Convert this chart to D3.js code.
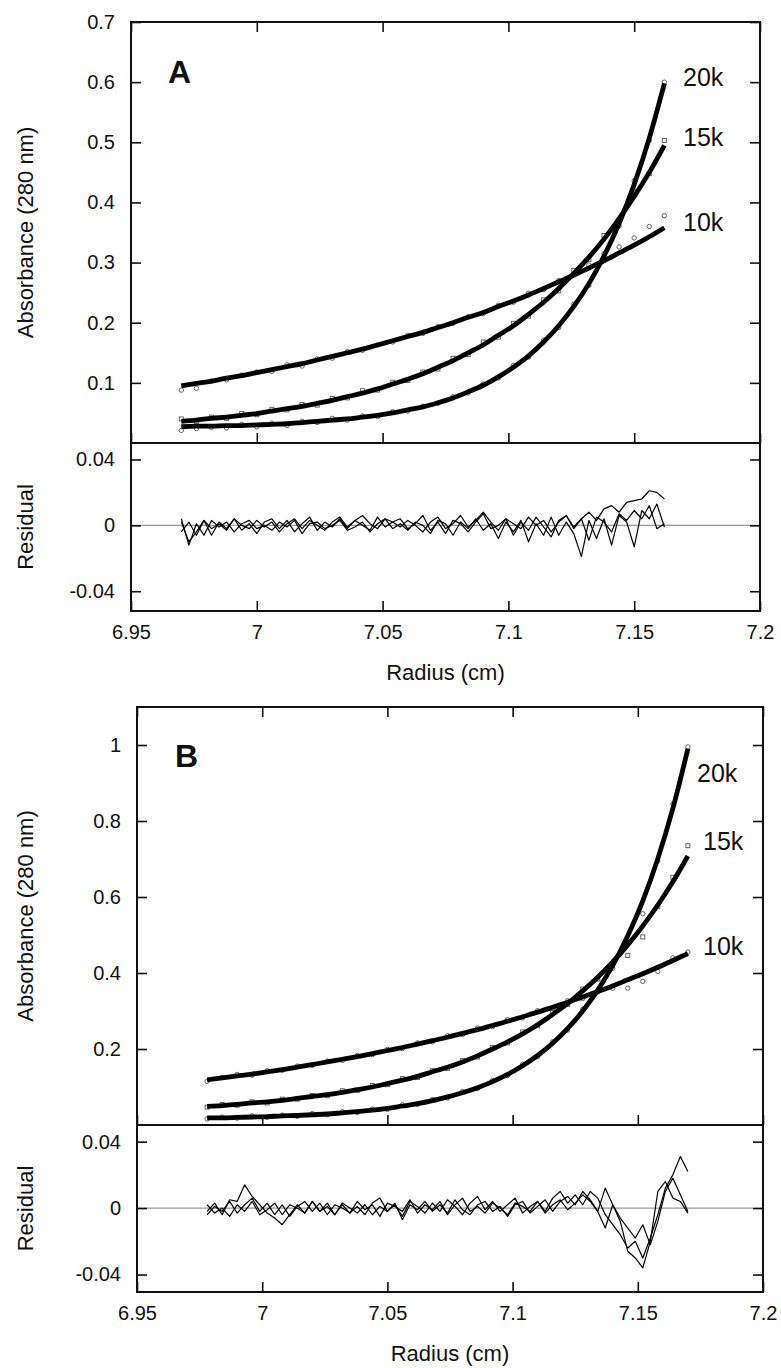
<!DOCTYPE html>
<html>
<head>
<meta charset="utf-8">
<script src="https://cdnjs.cloudflare.com/ajax/libs/d3/7.8.5/d3.min.js"></script>
<style>
  body { margin: 0; background: white; }
  svg { font-family: "Liberation Sans", Arial, Helvetica, sans-serif; }
</style>
</head>
<body>
<div id="chart"></div>
<script>

// Tick values shared by both panels
var xTicks = [6.95, 7, 7.05, 7.1, 7.15, 7.2];
var yTicksA = [0.1, 0.2, 0.3, 0.4, 0.5, 0.6, 0.7];
var yTicksB = [0.2, 0.4, 0.6, 0.8, 1];
var resTicks = [-0.04, 0, 0.04];
var speeds = ["10k", "15k", "20k"];

// ---------- Panel A ----------
// radius grid of the residual scans (cm)
var radiusA = [6.970, 6.973, 6.976, 6.979, 6.982, 6.985, 6.988, 6.991, 6.994, 6.997,
               7.000, 7.003, 7.006, 7.009, 7.012, 7.015, 7.018, 7.021, 7.024, 7.027,
               7.030, 7.033, 7.036, 7.039, 7.042, 7.045, 7.048, 7.051, 7.054, 7.057,
               7.060, 7.063, 7.066, 7.069, 7.072, 7.075, 7.078, 7.081, 7.084, 7.087,
               7.090, 7.093, 7.096, 7.099, 7.102, 7.105, 7.108, 7.111, 7.114, 7.117,
               7.120, 7.123, 7.126, 7.129, 7.132, 7.135, 7.138, 7.141, 7.144, 7.147,
               7.150, 7.153, 7.156, 7.159, 7.162];

// radius of the plotted absorbance points and fit
var obsRadiusA = [6.970, 6.976, 6.982, 6.988, 6.994, 7.000, 7.006, 7.012, 7.018, 7.024,
                  7.030, 7.036, 7.042, 7.048, 7.054, 7.060, 7.066, 7.072, 7.078, 7.084,
                  7.090, 7.096, 7.102, 7.108, 7.114, 7.120, 7.126, 7.132, 7.138, 7.144,
                  7.150, 7.156, 7.162];

var fitA10k = [0.095, 0.099, 0.103, 0.108, 0.112, 0.117, 0.122, 0.127, 0.132, 0.138,
               0.144, 0.150, 0.156, 0.163, 0.170, 0.177, 0.184, 0.192, 0.200, 0.209,
               0.217, 0.227, 0.236, 0.246, 0.257, 0.268, 0.279, 0.291, 0.303, 0.316,
               0.329, 0.343, 0.358];
var fitA15k = [0.036, 0.038, 0.041, 0.043, 0.046, 0.049, 0.053, 0.057, 0.061, 0.066,
               0.071, 0.077, 0.083, 0.090, 0.098, 0.106, 0.115, 0.126, 0.137, 0.150,
               0.163, 0.179, 0.195, 0.214, 0.234, 0.257, 0.282, 0.309, 0.339, 0.373,
               0.410, 0.450, 0.495];
var fitA20k = [0.027, 0.028, 0.028, 0.029, 0.029, 0.030, 0.031, 0.032, 0.034, 0.036,
               0.038, 0.040, 0.043, 0.046, 0.050, 0.055, 0.060, 0.067, 0.075, 0.085,
               0.096, 0.110, 0.126, 0.145, 0.168, 0.195, 0.227, 0.265, 0.311, 0.365,
               0.430, 0.507, 0.598];

var obsA10k = [0.088, 0.091, 0.103, 0.105, 0.113, 0.118, 0.119, 0.130, 0.128, 0.140,
               0.141, 0.152, 0.154, 0.163, 0.168, 0.179, 0.182, 0.194, 0.199, 0.210,
               0.215, 0.229, 0.234, 0.249, 0.255, 0.270, 0.281, 0.296, 0.310, 0.326,
               0.341, 0.360, 0.378];
var obsA15k = [0.040, 0.036, 0.043, 0.041, 0.049, 0.047, 0.056, 0.055, 0.064, 0.063,
               0.074, 0.075, 0.087, 0.088, 0.101, 0.104, 0.118, 0.123, 0.141, 0.147,
               0.168, 0.176, 0.199, 0.211, 0.238, 0.253, 0.287, 0.305, 0.345, 0.370,
               0.418, 0.448, 0.503];
var obsA20k = [0.021, 0.024, 0.026, 0.025, 0.031, 0.027, 0.033, 0.029, 0.036, 0.034,
               0.041, 0.038, 0.045, 0.044, 0.052, 0.053, 0.061, 0.066, 0.077, 0.083,
               0.098, 0.108, 0.129, 0.143, 0.171, 0.192, 0.231, 0.262, 0.315, 0.361,
               0.436, 0.503, 0.600];

var resA10k = [-0.004, 0.002, -0.006, 0.003, -0.002, 0.001, -0.003, 0.004, 0.000, -0.002,
               0.003, -0.001, 0.002, -0.004, 0.001, 0.004, -0.002, 0.003, 0.000, -0.003,
               0.002, 0.005, -0.001, 0.003, 0.006, 0.001, -0.002, 0.004, 0.002, -0.001,
               0.003, 0.000, -0.004, 0.002, 0.005, -0.002, 0.001, 0.006, -0.001, 0.003,
               0.008, 0.002, -0.003, 0.004, 0.001, -0.002, 0.005, 0.000, 0.003, -0.004,
               0.002, 0.006, -0.001, 0.004, 0.008, 0.003, 0.010, 0.012, 0.008, 0.014,
               0.015, 0.016, 0.021, 0.020, 0.016];
var resA15k = [0.002, -0.010, -0.004, 0.003, -0.006, 0.002, -0.002, 0.004, -0.003, 0.001,
               -0.005, 0.002, 0.004, -0.002, 0.003, -0.004, 0.001, 0.005, -0.003, 0.002,
               -0.001, 0.004, -0.002, 0.003, 0.000, -0.003, 0.005, -0.001, 0.002, 0.004,
               -0.002, 0.001, 0.006, -0.003, 0.002, -0.005, 0.003, 0.001, -0.004, 0.002,
               0.007, -0.002, 0.000, 0.004, -0.006, 0.002, -0.003, 0.005, -0.001, -0.007,
               0.003, 0.006, -0.002, 0.004, -0.009, 0.005, 0.002, -0.004, 0.007, 0.003,
               0.009, 0.004, 0.012, -0.002, 0.001];
var resA20k = [0.004, -0.012, 0.001, -0.006, 0.003, -0.001, 0.002, -0.004, 0.001, 0.003,
               -0.002, 0.000, -0.003, 0.002, -0.001, 0.003, -0.005, 0.001, 0.002, -0.002,
               0.000, 0.003, -0.003, -0.001, 0.002, -0.004, 0.001, 0.004, -0.002, 0.001,
               -0.003, 0.002, 0.000, -0.005, 0.003, 0.001, -0.006, 0.002, -0.002, 0.004,
               -0.003, 0.001, -0.008, 0.002, -0.004, 0.003, -0.010, 0.001, -0.006, 0.005,
               -0.006, 0.002, -0.005, -0.019, 0.003, -0.008, 0.004, -0.012, 0.006, 0.002,
               -0.013, 0.009, 0.004, 0.013, -0.001];

// ---------- Panel B ----------
var radiusB = [6.978, 6.981, 6.984, 6.987, 6.990, 6.993, 6.996, 6.999, 7.002, 7.005,
               7.008, 7.011, 7.014, 7.017, 7.020, 7.023, 7.026, 7.029, 7.032, 7.035,
               7.038, 7.041, 7.044, 7.047, 7.050, 7.053, 7.056, 7.059, 7.062, 7.065,
               7.068, 7.071, 7.074, 7.077, 7.080, 7.083, 7.086, 7.089, 7.092, 7.095,
               7.098, 7.101, 7.104, 7.107, 7.110, 7.113, 7.116, 7.119, 7.122, 7.125,
               7.128, 7.131, 7.134, 7.137, 7.140, 7.143, 7.146, 7.149, 7.152, 7.155,
               7.158, 7.161, 7.164, 7.167, 7.170];

var obsRadiusB = [6.978, 6.984, 6.990, 6.996, 7.002, 7.008, 7.014, 7.020, 7.026, 7.032,
                  7.038, 7.044, 7.050, 7.056, 7.062, 7.068, 7.074, 7.080, 7.086, 7.092,
                  7.098, 7.104, 7.110, 7.116, 7.122, 7.128, 7.134, 7.140, 7.146, 7.152,
                  7.158, 7.164, 7.170];

var fitB10k = [0.119, 0.124, 0.129, 0.134, 0.140, 0.146, 0.152, 0.159, 0.166, 0.173,
               0.180, 0.188, 0.196, 0.204, 0.213, 0.222, 0.231, 0.241, 0.251, 0.262,
               0.273, 0.285, 0.297, 0.310, 0.323, 0.337, 0.351, 0.366, 0.382, 0.398,
               0.415, 0.433, 0.451];
var fitB15k = [0.049, 0.051, 0.054, 0.058, 0.061, 0.065, 0.070, 0.075, 0.080, 0.086,
               0.093, 0.100, 0.109, 0.118, 0.128, 0.140, 0.152, 0.166, 0.182, 0.200,
               0.219, 0.240, 0.264, 0.291, 0.320, 0.353, 0.389, 0.429, 0.474, 0.524,
               0.579, 0.640, 0.708];
var fitB20k = [0.019, 0.019, 0.020, 0.021, 0.022, 0.024, 0.025, 0.027, 0.029, 0.032,
               0.035, 0.039, 0.044, 0.050, 0.056, 0.064, 0.074, 0.085, 0.098, 0.114,
               0.133, 0.156, 0.183, 0.215, 0.254, 0.300, 0.355, 0.420, 0.498, 0.590,
               0.701, 0.833, 0.990];

var obsB10k = [0.115, 0.125, 0.133, 0.131, 0.143, 0.144, 0.155, 0.157, 0.168, 0.170,
               0.183, 0.185, 0.199, 0.201, 0.216, 0.219, 0.235, 0.238, 0.255, 0.259,
               0.277, 0.282, 0.301, 0.306, 0.327, 0.333, 0.352, 0.360, 0.360, 0.378,
               0.404, 0.440, 0.455];
var obsB15k = [0.047, 0.054, 0.052, 0.061, 0.058, 0.068, 0.068, 0.078, 0.077, 0.090,
               0.091, 0.104, 0.106, 0.122, 0.125, 0.143, 0.149, 0.170, 0.179, 0.204,
               0.216, 0.245, 0.261, 0.296, 0.317, 0.358, 0.384, 0.425, 0.446, 0.495,
               0.575, 0.652, 0.735];
var obsB20k = [0.016, 0.021, 0.018, 0.024, 0.020, 0.026, 0.023, 0.030, 0.027, 0.035,
               0.033, 0.042, 0.041, 0.053, 0.054, 0.067, 0.071, 0.088, 0.096, 0.117,
               0.130, 0.160, 0.180, 0.219, 0.250, 0.304, 0.350, 0.412, 0.480, 0.556,
               0.695, 0.845, 0.995];

var resB10k = [-0.004, 0.001, -0.002, 0.004, -0.003, 0.002, 0.006, -0.002, 0.003, -0.004,
               0.002, -0.005, 0.001, 0.004, -0.002, 0.003, -0.004, 0.002, 0.000, -0.003,
               0.004, -0.001, 0.002, -0.005, 0.003, 0.001, -0.002, 0.005, -0.003, 0.002,
               -0.001, 0.004, -0.004, 0.002, 0.006, -0.002, 0.001, -0.003, 0.003, 0.000,
               -0.004, 0.003, 0.001, -0.002, 0.004, -0.003, 0.002, 0.005, -0.001, 0.003,
               0.008, 0.004, -0.002, 0.012, 0.002, -0.006, -0.012, -0.018, -0.010, -0.022,
               -0.008, 0.010, 0.018, 0.008, -0.002];
var resB15k = [-0.002, 0.003, -0.004, 0.005, 0.004, 0.014, 0.007, 0.002, -0.003, -0.006,
               -0.010, -0.004, 0.002, -0.003, 0.004, -0.002, 0.003, -0.004, 0.002, -0.003,
               0.001, -0.004, 0.003, 0.006, -0.002, 0.002, -0.005, 0.004, 0.001, -0.003,
               0.003, -0.002, 0.005, 0.001, -0.004, 0.003, 0.007, -0.001, 0.004, -0.002,
               0.002, 0.006, -0.003, 0.001, 0.004, -0.002, 0.006, 0.010, 0.003, 0.008,
               0.002, 0.010, 0.006, -0.004, -0.010, -0.016, -0.024, -0.020, -0.030, -0.018,
               -0.004, 0.012, 0.020, 0.031, 0.022];
var resB20k = [0.002, -0.003, 0.000, -0.005, 0.002, -0.002, 0.004, -0.004, -0.001, 0.003,
               -0.004, 0.002, 0.000, -0.003, 0.004, -0.002, 0.001, -0.004, 0.003, 0.000,
               -0.003, 0.002, -0.004, 0.001, -0.002, 0.003, -0.007, 0.002, -0.001, 0.004,
               -0.002, 0.002, -0.003, 0.005, -0.001, -0.004, 0.002, 0.004, -0.002, 0.001,
               -0.005, 0.002, 0.004, -0.003, 0.001, 0.005, -0.002, 0.004, 0.007, 0.002,
               0.010, 0.005, -0.002, -0.012, 0.002, -0.008, -0.026, -0.030, -0.036, -0.020,
               0.010, 0.016, 0.006, 0.004, -0.003];


// Layout of both panels (pixel frame + references to the data above)
var panelA = {
  left: 131, right: 760, top: 22, mid: 443, bottom: 611,
  yDomain: [0, 0.7], resDomain: [-0.052, 0.05], yTicks: yTicksA,
  radius: radiusA, obsRadius: obsRadiusA,
  fits: [fitA10k, fitA15k, fitA20k],
  obs: [obsA10k, obsA15k, obsA20k],
  res: [resA10k, resA15k, resA20k],
  letter: {text: "A", x: 168, y: 83},
  labels: [{x: 683, y: 231}, {x: 683, y: 146}, {x: 683, y: 86}]
};

var panelB = {
  left: 137, right: 763, top: 707, mid: 1125, bottom: 1292,
  yDomain: [0, 1.1], resDomain: [-0.0505, 0.05], yTicks: yTicksB,
  radius: radiusB, obsRadius: obsRadiusB,
  fits: [fitB10k, fitB15k, fitB20k],
  obs: [obsB10k, obsB15k, obsB20k],
  res: [resB10k, resB15k, resB20k],
  letter: {text: "B", x: 175, y: 767},
  labels: [{x: 703, y: 955}, {x: 703, y: 850}, {x: 697, y: 782}]
};


window.onload = function(){

  var svg = d3.select("#chart")
              .append("svg")
                .attr("width", 781)
                .attr("height", 1368);

  draw_panel(svg, panelA);
  draw_panel(svg, panelB);
};


// Style the tick marks and labels of an axis group, drop the domain path
function style_axis(g) {
  g.select(".domain").remove();
  g.selectAll(".tick line")
    .attr("stroke", "#111")
    .attr("stroke-width", 1.6);
  g.selectAll(".tick text")
    .attr("fill", "#111")
    .style("font-size", "20px");
}


function draw_panel(svg, p) {

  // Scales
  var xScale = d3.scaleLinear()
                  .domain([6.95, 7.2])
                  .range([p.left, p.right]);

  var yScale = d3.scaleLinear()
                  .domain(p.yDomain)
                  .range([p.mid, p.top]);

  var resScale = d3.scaleLinear()
                    .domain(p.resDomain)
                    .range([p.bottom, p.mid]);

  var g = svg.append("g");

  // Zero line of residual plot
  g.append("line")
    .attr("x1", p.left)
    .attr("x2", p.right)
    .attr("y1", resScale(0))
    .attr("y2", resScale(0))
    .attr("stroke", "#999")
    .attr("stroke-width", 1.2);

  // Absorbance axes, ticks pointing inward on all four sides
  g.append("g")
    .attr("transform", "translate(" + p.left + ",0)")
    .call(d3.axisLeft(yScale).tickValues(p.yTicks).tickSizeInner(-10).tickSizeOuter(0)
            .tickPadding(16).tickFormat(String))
    .call(style_axis);

  g.append("g")
    .attr("transform", "translate(" + p.right + ",0)")
    .call(d3.axisRight(yScale).tickValues(p.yTicks).tickSizeInner(-10).tickSizeOuter(0)
            .tickFormat(""))
    .call(style_axis);

  g.append("g")
    .attr("transform", "translate(0," + p.top + ")")
    .call(d3.axisTop(xScale).tickValues(xTicks).tickSizeInner(-10).tickSizeOuter(0)
            .tickFormat(""))
    .call(style_axis);

  g.append("g")
    .attr("transform", "translate(0," + p.mid + ")")
    .call(d3.axisBottom(xScale).tickValues(xTicks).tickSizeInner(-10).tickSizeOuter(0)
            .tickFormat(""))
    .call(style_axis);

  // Residual axes
  g.append("g")
    .attr("transform", "translate(" + p.left + ",0)")
    .call(d3.axisLeft(resScale).tickValues(resTicks).tickSizeInner(-10).tickSizeOuter(0)
            .tickPadding(16).tickFormat(String))
    .call(style_axis);

  g.append("g")
    .attr("transform", "translate(" + p.right + ",0)")
    .call(d3.axisRight(resScale).tickValues(resTicks).tickSizeInner(-10).tickSizeOuter(0)
            .tickFormat(""))
    .call(style_axis);

  g.append("g")
    .attr("transform", "translate(0," + p.bottom + ")")
    .call(d3.axisBottom(xScale).tickValues(xTicks).tickSizeInner(-10).tickSizeOuter(0)
            .tickPadding(14).tickFormat(String))
    .call(style_axis);

  // Observed absorbance points (circles for 10k and 20k, squares for 15k)
  p.obs.forEach(function(series, s) {
    var pts = d3.zip(p.obsRadius, series);
    if (s == 1) {
      g.selectAll(null)
        .data(pts)
        .enter()
        .append("rect")
          .attr("x", function(d) { return xScale(d[0]) - 2; })
          .attr("y", function(d) { return yScale(d[1]) - 2; })
          .attr("width", 4)
          .attr("height", 4)
          .attr("fill", "white")
          .attr("stroke", "#555")
          .attr("stroke-width", 0.9);
    }
    else {
      g.selectAll(null)
        .data(pts)
        .enter()
        .append("circle")
          .attr("cx", function(d) { return xScale(d[0]); })
          .attr("cy", function(d) { return yScale(d[1]); })
          .attr("r", 2.2)
          .attr("fill", "white")
          .attr("stroke", "#555")
          .attr("stroke-width", 0.9);
    }
  });

  // Fitted curves
  var fitLine = d3.line()
                  .x(function(d) { return xScale(d[0]); })
                  .y(function(d) { return yScale(d[1]); })
                  .curve(d3.curveMonotoneX);

  p.fits.forEach(function(series) {
    g.append("path")
      .datum(d3.zip(p.obsRadius, series))
      .attr("d", fitLine)
      .attr("fill", "none")
      .attr("stroke", "black")
      .attr("stroke-width", 4.8);
  });

  // Residual traces
  var resLine = d3.line()
                  .x(function(d) { return xScale(d[0]); })
                  .y(function(d) { return resScale(d[1]); });

  p.res.forEach(function(series) {
    g.append("path")
      .datum(d3.zip(p.radius, series))
      .attr("d", resLine)
      .attr("fill", "none")
      .attr("stroke", "black")
      .attr("stroke-width", 1.2)
      .attr("stroke-linejoin", "round");
  });

  // Frames
  g.append("rect")
    .attr("x", p.left)
    .attr("y", p.top)
    .attr("width", p.right - p.left)
    .attr("height", p.mid - p.top)
    .attr("fill", "none")
    .attr("stroke", "#111")
    .attr("stroke-width", 2);

  g.append("rect")
    .attr("x", p.left)
    .attr("y", p.mid)
    .attr("width", p.right - p.left)
    .attr("height", p.bottom - p.mid)
    .attr("fill", "none")
    .attr("stroke", "#111")
    .attr("stroke-width", 2);

  // Speed labels next to the curve ends
  speeds.forEach(function(name, s) {
    g.append("text")
      .attr("x", p.labels[s].x)
      .attr("y", p.labels[s].y)
      .style("font-size", "25px")
      .attr("fill", "#111")
      .text(name);
  });

  // Panel letter
  g.append("text")
    .attr("x", p.letter.x)
    .attr("y", p.letter.y)
    .style("font-size", "32px")
    .style("font-weight", "bold")
    .attr("fill", "#111")
    .text(p.letter.text);

  // Axis titles
  g.append("text")
    .attr("transform", "translate(33," + ((p.top + p.mid) / 2) + ") rotate(-90)")
    .style("text-anchor", "middle")
    .style("font-size", "22px")
    .attr("fill", "#111")
    .text("Absorbance (280 nm)");

  g.append("text")
    .attr("transform", "translate(33," + ((p.mid + p.bottom) / 2) + ") rotate(-90)")
    .style("text-anchor", "middle")
    .style("font-size", "22px")
    .attr("fill", "#111")
    .text("Residual");

  g.append("text")
    .attr("x", (p.left + p.right) / 2)
    .attr("y", p.bottom + 69)
    .style("text-anchor", "middle")
    .style("font-size", "22px")
    .attr("fill", "#111")
    .text("Radius (cm)");
};

</script>
</body>
</html>
